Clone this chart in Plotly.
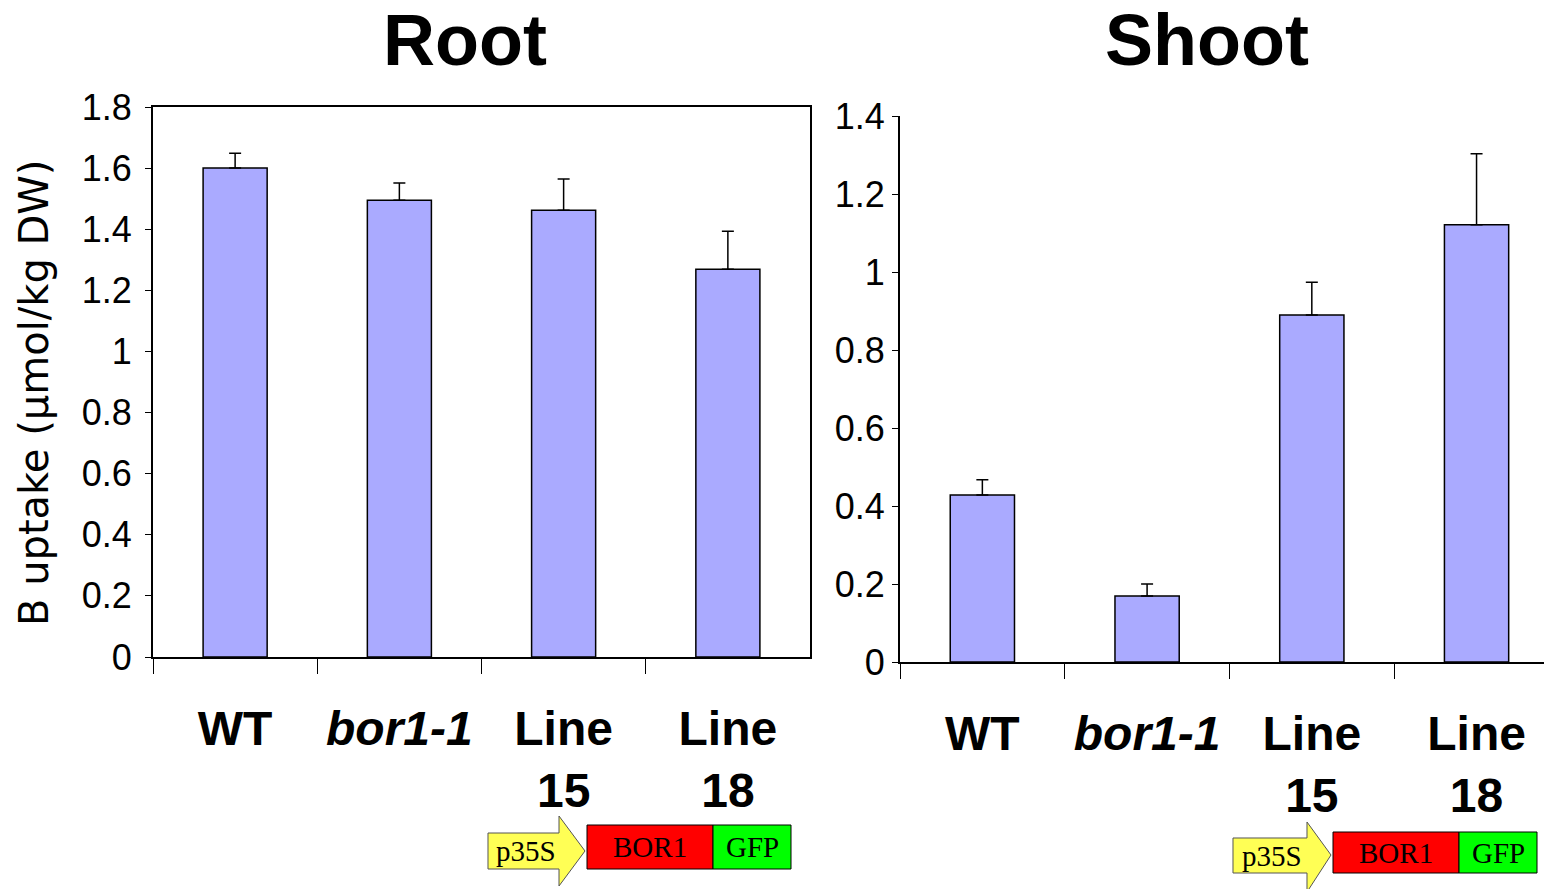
import plotly.graph_objects as go

# the page body adds an 8px margin, so the figure is drawn 8px smaller
# and every reference pixel position is shifted by OFF
OFF = 8
W, H = 1552 - OFF, 889 - OFF

categories = ['WT', '<i>bor1-1</i>', 'Line<br>15', 'Line<br>18']
root_values = [1.600, 1.495, 1.462, 1.269]
root_errors = [0.049, 0.056, 0.102, 0.124]
shoot_values = [0.428, 0.169, 0.890, 1.121]
shoot_errors = [0.039, 0.031, 0.084, 0.182]
root_ticks = [0, 0.2, 0.4, 0.6, 0.8, 1, 1.2, 1.4, 1.6, 1.8]
shoot_ticks = [0, 0.2, 0.4, 0.6, 0.8, 1, 1.2, 1.4]

BAR_COLOR = '#aaaaff'


def px(x):
    return (x - OFF) / W


def py(y):
    return 1 - (y - OFF) / H


def bar_trace(values, errors, xaxis, yaxis):
    return go.Bar(
        x=categories, y=values, width=0.39,
        marker=dict(color=BAR_COLOR, line=dict(color='black', width=1.5)),
        error_y=dict(type='data', array=errors, arrayminus=[0] * len(errors),
                     symmetric=False, color='black', thickness=1.5, width=6),
        xaxis=xaxis, yaxis=yaxis, showlegend=False,
    )


fig = go.Figure()
fig.add_trace(bar_trace(root_values, root_errors, 'x', 'y'))
fig.add_trace(bar_trace(shoot_values, shoot_errors, 'x2', 'y2'))

xcommon = dict(
    type='category', showline=True, linecolor='black', linewidth=2,
    ticks='outside', tickson='boundaries', ticklen=15, tickcolor='black', tickwidth=1,
    tickfont=dict(family='Liberation Sans Narrow, Arial Narrow, Liberation Sans, Arial',
                  size=48, color='black', weight='bold'),
    ticklabelstandoff=28, showgrid=False, zeroline=False, fixedrange=True,
)
ycommon = dict(
    showline=True, linecolor='black', linewidth=2,
    ticks='outside', ticklen=6, tickcolor='black', tickwidth=1,
    tickfont=dict(family='Liberation Sans, Arial', size=36, color='black'),
    showgrid=False, zeroline=False, fixedrange=True,
)

fig.update_layout(
    width=W, height=H,
    margin=dict(l=0, r=0, t=0, b=0, autoexpand=False),
    plot_bgcolor='white', paper_bgcolor='white',
    xaxis=dict(xcommon, domain=[px(153), px(810)], range=[-0.5, 3.5],
               anchor='y', mirror=True),
    yaxis=dict(ycommon, domain=[py(657), py(107)], range=[0, 1.8],
               tickvals=root_ticks, anchor='x', mirror=True, ticklabelstandoff=6),
    xaxis2=dict(xcommon, domain=[px(900), 1.0], range=[-0.5, 3.458], anchor='y2'),
    yaxis2=dict(ycommon, domain=[py(662), py(116)], range=[0, 1.4],
                tickvals=shoot_ticks, anchor='x2', ticklabelstandoff=0),
)

annotations = [
    dict(text='<b>Root</b>', x=px(465), y=py(40), font=dict(size=72)),
    dict(text='<b>Shoot</b>', x=px(1207), y=py(40), font=dict(size=72)),
    dict(text='B uptake (µmol/kg DW)', x=px(34), y=py(393), textangle=-90,
         font=dict(family='DejaVu Sans, Verdana', size=40)),
]

shapes = []
# construct diagrams: p35S promoter arrow, BOR1 and GFP boxes
constructs = [
    dict(body=(488, 559, 833, 869), head=(585, 816, 886, 851),
         bor1=(587, 713, 825, 869), gfp=(713, 791, 825, 869)),
    dict(body=(1233, 1307, 838, 873), head=(1331, 822, 892, 855),
         bor1=(1333, 1459, 832, 873), gfp=(1459, 1537, 832, 873)),
]
for c in constructs:
    x0, x1, y0, y1 = c['body']
    hx, hy0, hy1, ty = c['head']
    pts = [(x0, y0), (x1, y0), (x1, hy0), (hx, ty), (x1, hy1), (x1, y1), (x0, y1)]
    path = 'M ' + ' L '.join(f'{px(a):.5f},{py(b):.5f}' for a, b in pts) + ' Z'
    shapes.append(dict(type='path', path=path, xref='paper', yref='paper',
                       fillcolor='#ffff55', line=dict(color='#555555', width=1)))
    for key, color in (('bor1', '#ff0000'), ('gfp', '#00ff00')):
        bx0, bx1, by0, by1 = c[key]
        shapes.append(dict(type='rect', xref='paper', yref='paper',
                           x0=px(bx0), x1=px(bx1), y0=py(by1), y1=py(by0),
                           fillcolor=color, line=dict(color='black', width=1)))
    serif = dict(family='Liberation Serif, Times New Roman', size=29)
    annotations.append(dict(text='p35S', x=px((x0 + x1) / 2 + 2), y=py((y0 + y1) / 2), font=serif))
    annotations.append(dict(text='BOR1', x=px(sum(c['bor1'][:2]) / 2), y=py(sum(c['bor1'][2:]) / 2), font=serif))
    annotations.append(dict(text='GFP', x=px(sum(c['gfp'][:2]) / 2), y=py(sum(c['gfp'][2:]) / 2), font=serif))

for a in annotations:
    a.setdefault('xref', 'paper')
    a.setdefault('yref', 'paper')
    a['showarrow'] = False
    a['xanchor'] = 'center'
    a['yanchor'] = 'middle'
    a['font'] = dict(dict(family='Liberation Sans, Arial', color='black'), **a['font'])

fig.update_layout(annotations=annotations, shapes=shapes)

fig.write_html('out.html')
